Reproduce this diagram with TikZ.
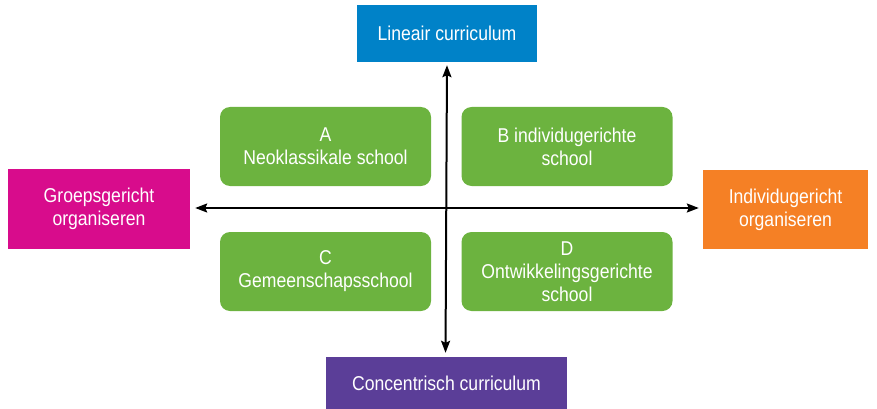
\documentclass[tikz,border=0pt]{standalone}
\usepackage{fontspec}
\setmainfont{Liberation Sans}[FakeStretch=0.88]
\usetikzlibrary{arrows.meta}

\definecolor{lineairblue}{RGB}{0,130,200}
\definecolor{concentrischpurple}{RGB}{91,62,152}
\definecolor{groepsmagenta}{RGB}{216,12,140}
\definecolor{individuorange}{RGB}{245,128,37}
\definecolor{schoolgreen}{RGB}{108,179,63}

\tikzset{
  axisbox/.style={inner sep=0pt, text=white, align=center, font=\fontsize{20}{23}\selectfont},
  schoolbox/.style={axisbox, fill=schoolgreen, rounded corners=10pt, minimum width=211, minimum height=79},
  axisline/.style={line width=2pt, {Stealth[length=12pt,width=9pt,inset=2pt]}-{Stealth[length=12pt,width=9pt,inset=2pt]}}
}

\begin{document}
\begin{tikzpicture}[x=1pt,y=1pt,yscale=-1,xscale=1]
    \useasboundingbox (0,0) rectangle (877,409);

    % Shape: Rectangle
    \node [axisbox, fill=lineairblue, minimum width=180, minimum height=57] (lineair) at (447,33.5) {Lineair curriculum};
    % Shape: Rectangle
    \node [axisbox, fill=concentrischpurple, minimum width=241, minimum height=52] (concentrisch) at (446.5,383) {Concentrisch curriculum};
    % Shape: Rectangle
    \node [axisbox, fill=groepsmagenta, minimum width=182, minimum height=80] (groeps) at (99,209) {Groepsgericht\\organiseren};
    % Shape: Rectangle
    \node [axisbox, fill=individuorange, minimum width=165, minimum height=79] (individu) at (785.5,209.5) {Individugericht\\organiseren};

    % Shape: Rounded Rect
    \node [schoolbox] (schoolA) at (325.5,146.5) {A\\Neoklassikale school};
    % Shape: Rounded Rect
    \node [schoolbox] (schoolB) at (567,146.5) {B individugerichte\\school};
    % Shape: Rounded Rect
    \node [schoolbox] (schoolC) at (325.5,271.5) {C\\Gemeenschapsschool};
    % Shape: Rounded Rect
    \node [schoolbox] (schoolD) at (567,271.5) {D\\Ontwikkelingsgerichte\\school};

    % Straight Lines
    \draw [axisline, shorten <=4pt, shorten >=3pt] ([xshift=-1pt]concentrisch.north) -- (lineair.south);
    % Straight Lines
    \draw [axisline, shorten <=5pt, shorten >=4pt] ([yshift=-1pt]groeps.east) -- ([yshift=-1.5pt]individu.west);

\end{tikzpicture}
\end{document}
